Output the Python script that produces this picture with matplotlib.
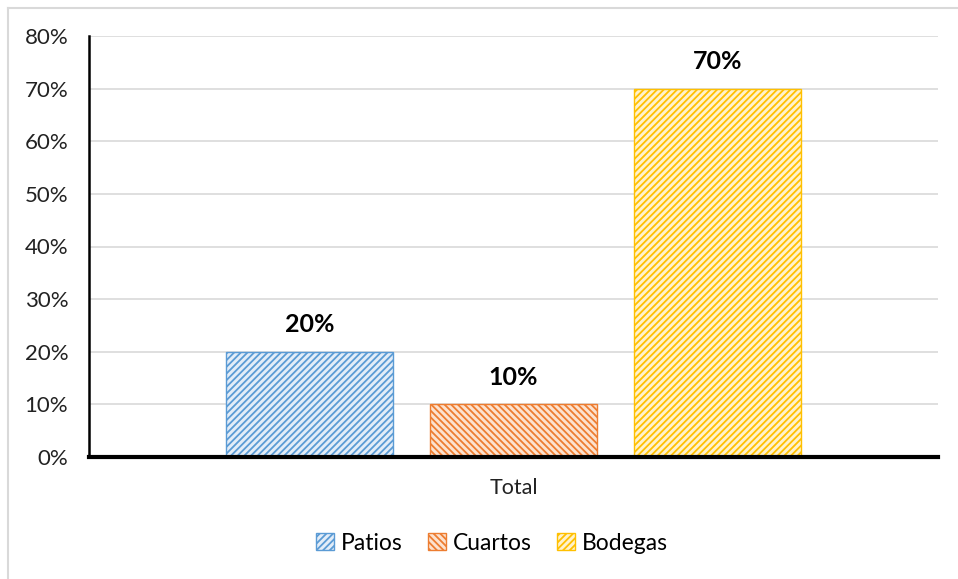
import matplotlib
matplotlib.use("Agg")
import matplotlib.pyplot as plt
from matplotlib.lines import Line2D
import numpy as np

categories = ["Total"]
series = ["Patios", "Cuartos", "Bodegas"]
values = [0.20, 0.10, 0.70]
labels = ["20%", "10%", "70%"]
yticks = [0, 0.1, 0.2, 0.3, 0.4, 0.5, 0.6, 0.7, 0.8]
ytick_labels = ["0%", "10%", "20%", "30%", "40%", "50%", "60%", "70%", "80%"]

face_colors = ["#e3edf8", "#fce2cf", "#fff2cc"]
hatch_colors = ["#5b9bd5", "#ed7d31", "#ffc000"]

plt.rcParams['font.family'] = ['Lato', 'DejaVu Sans']
plt.rcParams['hatch.linewidth'] = 1.3

fig = plt.figure(figsize=(9.58, 5.79), dpi=100)
W, H = 958, 579
ax = fig.add_axes([89 / W, 1 - 457 / H, (938 - 89) / W, (457 - 36) / H])

width = 167 / 849
offset = 0.240
hatches = ["/////", "\\\\\\\\\\", "/////"]
for i, (s, v) in enumerate(zip(series, values)):
    x = (i - 1) * offset
    ax.bar(x, v, width=width, facecolor=face_colors[i], edgecolor=hatch_colors[i],
           hatch=hatches[i], linewidth=1.0, label=s, zorder=3)
    ax.text(x, v + 0.052, labels[i], ha='center', va='center', fontsize=18,
            fontweight='bold', color='black')

ax.set_xlim(-0.5, 0.5)
ax.set_ylim(0, 0.8)
ax.set_yticks(yticks)
ax.set_yticklabels(ytick_labels, fontsize=16, color='#222222')
ax.set_xticks([0])
ax.set_xticklabels(categories, fontsize=15.5, color='#222222')
ax.tick_params(axis='both', length=0)
ax.tick_params(axis='y', pad=15)
ax.tick_params(axis='x', pad=15)
ax.yaxis.grid(True, color='#d9d9d9', linewidth=1.2, zorder=0)
ax.set_axisbelow(True)
for sp in ['top', 'right']:
    ax.spines[sp].set_visible(False)
ax.spines['left'].set_linewidth(1.8)
ax.spines['bottom'].set_linewidth(3)
ax.spines['left'].set_zorder(4)
ax.spines['bottom'].set_zorder(4)

leg = fig.legend(loc='center', bbox_to_anchor=(492 / W, 1 - 543 / H), ncol=3,
                 frameon=False, fontsize=16.5, handlelength=0.8, handleheight=0.8,
                 handletextpad=0.3, columnspacing=1.1)

# chart border (top and left visible)
fig.add_artist(Line2D([7.5 / W, 1], [1 - 7.5 / H, 1 - 7.5 / H], color='#d9d9d9', linewidth=1.5))
fig.add_artist(Line2D([7.5 / W, 7.5 / W], [0, 1 - 7.5 / H], color='#d9d9d9', linewidth=1.5))

fig.savefig("out.png", dpi=100)
